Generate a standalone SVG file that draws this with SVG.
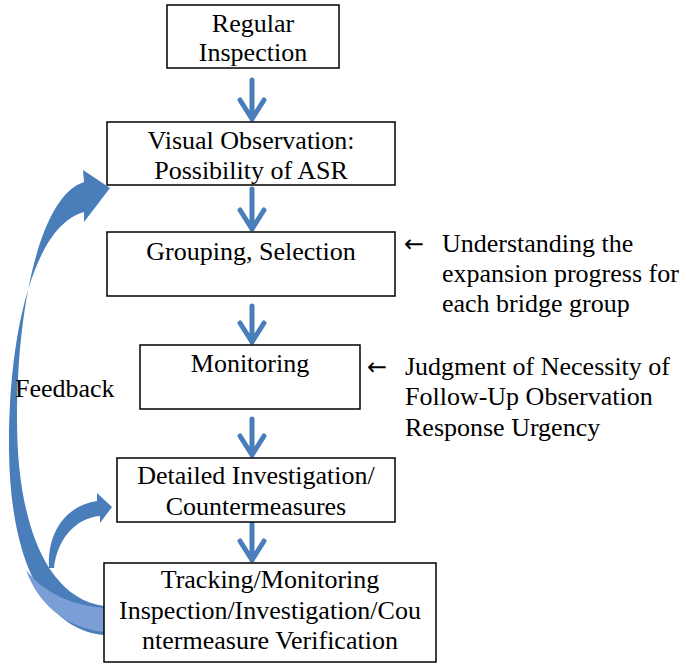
<svg xmlns="http://www.w3.org/2000/svg" width="686" height="664" viewBox="0 0 686 664">
<rect width="686" height="664" fill="#fff"/>
<g id="connectors">
<g stroke="#4a7ebb" stroke-width="5" fill="none" stroke-linecap="round" stroke-linejoin="round">
<path d="M252 80 V119 M240 100 L252 119 L264 100"/>
<path d="M252 189 V229 M240 210 L252 229 L264 210"/>
<path d="M252 306 V342 M240 323 L252 342 L264 323"/>
<path d="M252 419 V455 M240 436 L252 455 L264 436"/>
<path d="M252 524 V560 M240 541 L252 560 L264 541"/>
</g>
<g id="feedback-big">
<path d="M104 635 C45 630 10 560 9 450 C8 330 35 225 84 212 L84 222 L110 188 L83 170 L84 182 C42 195 17 300 17 420 C17 520 45 598 104 606 Z" fill="#4a7ebb"/>
<path d="M104 632 C66 628 38 604 26 570 C45 594 72 605 104 608 Z" fill="#7b9ed6"/>
</g>
<g id="feedback-small">
<path d="M49 568 C47 530 68 505 97 501 L97 493 L112 507 L100 523 L100 516 C75 518 57 540 54 568 Z" fill="#4a7ebb"/>
</g>
</g>
<g fill="#fff" stroke="#000" stroke-width="1.5">
<rect id="n1-box" x="167" y="5" width="172" height="63"/>
<rect id="n2-box" x="107" y="122" width="288" height="63"/>
<rect id="n3-box" x="107" y="232" width="288" height="64"/>
<rect id="n4-box" x="140" y="345" width="220" height="64"/>
<rect id="n5-box" x="117" y="458" width="278" height="64"/>
<rect id="n6-box" x="104" y="563" width="332" height="99"/>
</g>
<g font-family="Liberation Serif" font-size="26" fill="#000">
<g id="n1" text-anchor="middle"><text x="253" y="32">Regular</text><text x="253" y="61">Inspection</text></g>
<g id="n2" text-anchor="middle"><text x="251" y="149">Visual Observation:</text><text x="251" y="179">Possibility of ASR</text></g>
<g id="n3" text-anchor="middle"><text x="251" y="260">Grouping, Selection</text></g>
<g id="n4" text-anchor="middle"><text x="250" y="372">Monitoring</text></g>
<g id="n5" text-anchor="middle"><text x="256" y="484">Detailed Investigation/</text><text x="256" y="515">Countermeasures</text></g>
<g id="n6" text-anchor="middle"><text x="270" y="588">Tracking/Monitoring</text><text x="270" y="619">Inspection/Investigation/Cou</text><text x="270" y="649">ntermeasure Verification</text></g>
<g id="note1"><text x="404" y="252" font-family="DejaVu Sans" font-size="24">←</text><text x="442" y="252">Understanding the</text><text x="442" y="282">expansion progress for</text><text x="442" y="312">each bridge group</text></g>
<g id="note2"><text x="367" y="375" font-family="DejaVu Sans" font-size="24">←</text><text x="405" y="375">Judgment of Necessity of</text><text x="405" y="405">Follow-Up Observation</text><text x="405" y="436">Response Urgency</text></g>
<g id="label-feedback"><text x="15" y="397">Feedback</text></g>
</g>
</svg>
